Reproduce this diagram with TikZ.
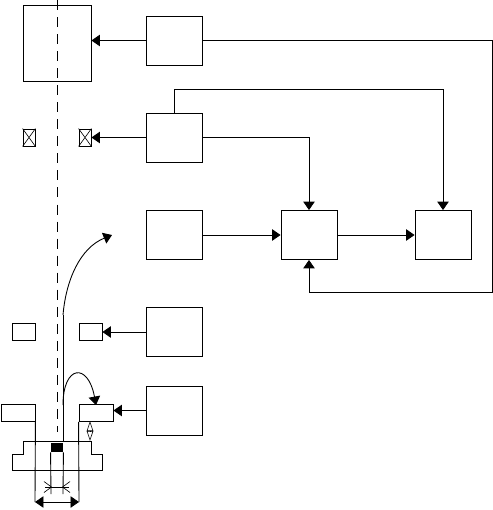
\documentclass[tikz,border=0pt]{standalone}
\usepackage{tikz}
\usetikzlibrary{arrows.meta,positioning,calc}
\tikzset{
  every path/.style={line width=0.5pt},
  blk/.style={rectangle, draw, minimum width=1.12cm, minimum height=0.98cm, inner sep=0pt},
  pad/.style={rectangle, draw, minimum width=0.46cm, minimum height=0.34cm, inner sep=0pt},
  coil/.style={rectangle, draw, minimum width=0.24cm, minimum height=0.34cm, inner sep=0pt},
  fl/.style={-{Triangle[length=1.7mm,width=2.3mm]}},
  dim/.style={{Triangle[length=1.7mm,width=2.3mm]}-{Triangle[length=1.7mm,width=2.3mm]}},
  gap/.style={{Triangle[open,length=2mm,width=1.3mm]}-{Triangle[open,length=2mm,width=1.3mm]}, line width=0.35pt},
}
\begin{document}
\begin{tikzpicture}[x=0.02cm,y=-0.02cm]
\useasboundingbox (0,0) rectangle (493,510);
% control blocks
\node[blk] (ctrlA) at (174,40.5) {};
\node[blk] (ctrlB) at (174,137.5) {};
\node[blk] (ctrlC) at (174,235) {};
\node[blk] (ctrlD) at (174,332) {};
\node[blk] (ctrlE) at (174,410.5) {};
\node[blk] (mix) at (309,235) {};
\node[blk] (ref) at (443,235) {};
% column on the axis
\node[rectangle, draw, minimum width=1.36cm, minimum height=1.52cm, inner sep=0pt] (gun) at (57,43) {};
\node[coil] (coilL) at (29,137.5) {};
\node[coil] (coilR) at (85,137.5) {};
\draw[line width=0.35pt] (coilL.north west) -- (coilL.south east) (coilL.north east) -- (coilL.south west);
\draw[line width=0.35pt] (coilR.north west) -- (coilR.south east) (coilR.north east) -- (coilR.south west);
\node[pad] (defL) at (23.5,332) {};
\node[pad] (defR) at (90.5,332) {};
\node[pad, minimum width=0.68cm] (stopL) at (18,413) {};
\node[pad, minimum width=0.68cm] (stopR) at (96,413) {};
\node[rectangle, fill=black, minimum width=0.24cm, minimum height=0.18cm, inner sep=0pt] (spot) at (57,447.5) {};
\coordinate (axisT) at (57,0);
\coordinate (axisB) at (57,432);
\draw[dash pattern=on 5.7pt off 4pt] (axisT) -- (axisB);
% stage
\coordinate (stage) at (23,441);
\draw (stage) -- (23,454) -- (12,454) -- (12,470) -- (102,470) -- (102,454) -- (91,454) -- (91,441) -- cycle;
% beam and slits
\coordinate (beamB) at (63,441);
\coordinate (beamM) at (63,315);
\coordinate (beamE) at (112,235);
\coordinate (backS) at (63,405);
\coordinate (backE) at (96,405);
\draw (beamB) -- (beamM);
\draw[fl] (beamM) .. controls (66,280) and (80,248) .. (beamE);
\draw[fl] (backS) .. controls (63,365) and (88,362) .. (backE);
\draw (stopL.south east) -- (35,502);
\draw (stopR.south west) -- (79,502);
\draw (spot.south west) -- (51,494);
\draw (spot.south east) -- (63,494);
\draw[dim] (35,502) -- (79,502);
\draw[line width=0.35pt, -{Straight Barb[length=1.5mm,width=2.2mm]}] (45,487) -- (52,487);
\draw[line width=0.35pt, -{Straight Barb[length=1.5mm,width=2.2mm]}] (69,487) -- (62,487);
\draw[line width=0.35pt] (51,487) -- (63,487);
\draw[gap] (90,421) -- (90,441);
% signal lines
\draw[fl] (ctrlA) -- (ctrlA -| gun.east);
\draw[fl] (ctrlB) -- (coilR);
\draw[fl] (ctrlC) -- (mix);
\draw[fl] (mix) -- (ref);
\draw[fl] (ctrlD) -- (defR);
\draw[fl] (ctrlE) -- (ctrlE -| stopR.east);
\draw[fl] (ctrlB.east) -- (309,137.5) -- (mix);
\draw[fl] (ctrlB.north) |- (443,89) -- (ref);
\draw[fl] (ctrlA.east) -- (492.3,40.5) -- (492.3,292) -- (309,292) -- (mix);
\end{tikzpicture}
\end{document}
